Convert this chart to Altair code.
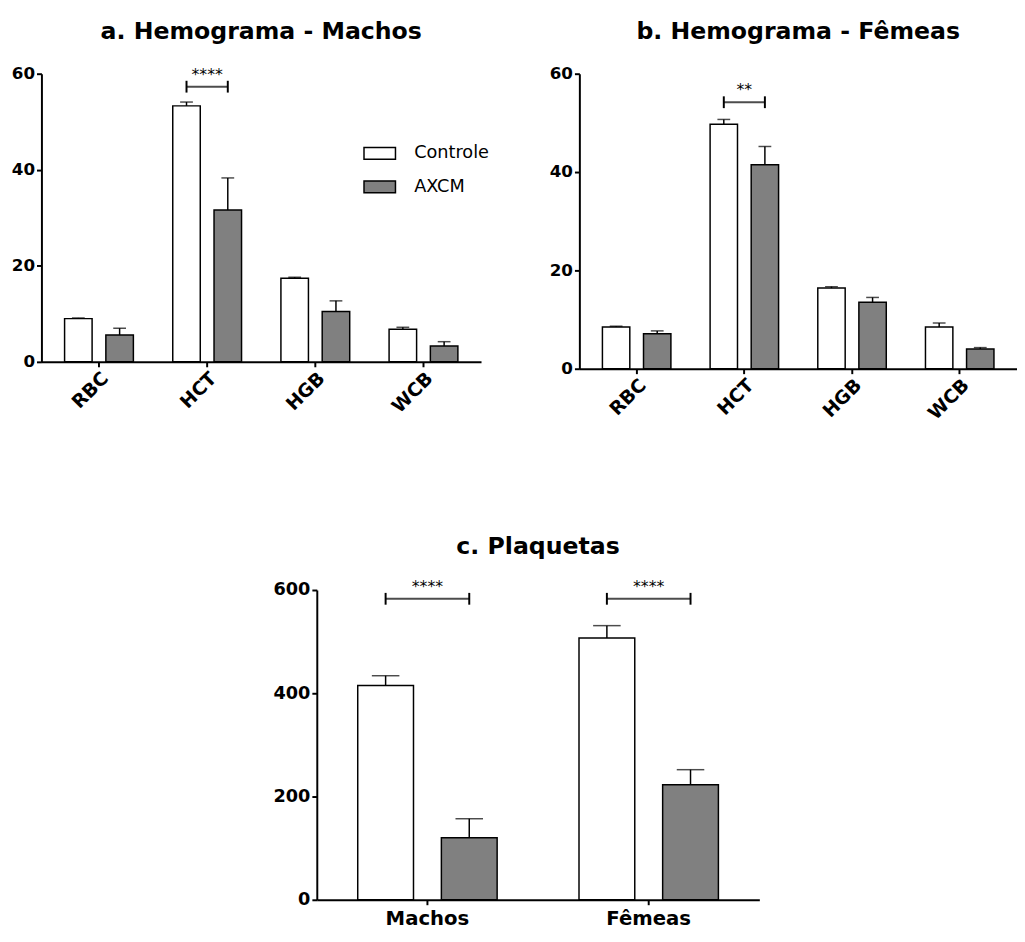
import altair as alt
import pandas as pd

# ---------------- data ----------------
hemo_categories = ["RBC", "HCT", "HGB", "WCB"]
groups = ["Controle", "AXCM"]

machos_controle_mean = [9.0, 53.3, 17.4, 6.8]
machos_controle_sem = [0.15, 0.8, 0.2, 0.4]
machos_axcm_mean = [5.6, 31.6, 10.5, 3.3]
machos_axcm_sem = [1.4, 6.7, 2.2, 0.9]

femeas_controle_mean = [8.5, 49.7, 16.4, 8.5]
femeas_controle_sem = [0.15, 1.0, 0.3, 0.8]
femeas_axcm_mean = [7.1, 41.5, 13.5, 4.0]
femeas_axcm_sem = [0.6, 3.7, 1.0, 0.3]

plaq_categories = ["Machos", "Fêmeas"]
plaq_controle_mean = [415, 507]
plaq_controle_sem = [19, 24]
plaq_axcm_mean = [120, 223]
plaq_axcm_sem = [37, 29]

sig_machos_cat = ["HCT"]
sig_machos_y = [57.3]
sig_machos_label = ["****"]

sig_femeas_cat = ["HCT"]
sig_femeas_y = [54.2]
sig_femeas_label = ["**"]

sig_plaq_cat = ["Machos", "Fêmeas"]
sig_plaq_y = [583, 583]
sig_plaq_label = ["****", "****"]

GRAY = "#808080"
FONT = "DejaVu Sans"


def make_df(cats, cm, cs, am, asd):
    rows = []
    for i, c in enumerate(cats):
        rows.append(dict(cat=c, group="Controle", mean=cm[i], top=cm[i] + cs[i]))
        rows.append(dict(cat=c, group="AXCM", mean=am[i], top=am[i] + asd[i]))
    return pd.DataFrame(rows)


def make_sig(cats, ys, labels):
    return pd.DataFrame(dict(cat=cats, y=ys, label=labels))


def make_sig_ends(cats, ys):
    rows = []
    for c, yv in zip(cats, ys):
        for g in groups:
            rows.append(dict(cat=c, group=g, y=yv))
    return pd.DataFrame(rows)


def panel(df, sig, sig_ends, cats, ydomain, yticks, title, width, height,
          p_inner, p_outer, label_angle, xlabel_size, ylabel_size, cap_size,
          bracket_width, legend, xlabel_pad=2):
    x = alt.X("cat:N", sort=cats, title=None,
              scale=alt.Scale(paddingInner=p_inner, paddingOuter=p_outer),
              axis=alt.Axis(labelAngle=label_angle, labelFontSize=xlabel_size,
                            labelPadding=xlabel_pad))
    xo = alt.XOffset("group:N", sort=groups,
                     scale=alt.Scale(paddingInner=1 / 3, paddingOuter=0))
    y = alt.Y("mean:Q", title=None,
              scale=alt.Scale(domain=ydomain, nice=False),
              axis=alt.Axis(values=yticks, labelFontSize=ylabel_size, labelPadding=2))

    base = alt.Chart(df)
    bars = base.mark_bar(stroke="black", strokeWidth=1.5).encode(
        x=x, xOffset=xo, y=y,
        fill=alt.Fill("group:N", sort=groups,
                      scale=alt.Scale(domain=groups, range=["white", GRAY]),
                      legend=legend),
    )
    err = base.mark_rule(color="black", strokeWidth=1.5).encode(
        x=x, xOffset=xo, y="mean:Q", y2="top:Q")
    caps = base.mark_tick(color="black", size=cap_size, thickness=1.5).encode(
        x=x, xOffset=xo, y="top:Q")

    hline = alt.Chart(sig).mark_tick(color="black", size=bracket_width, thickness=2).encode(
        x=x, y="y:Q")
    ends = alt.Chart(sig_ends).mark_rule(color="black", strokeWidth=2,
                                         yOffset=-6, y2Offset=6).encode(
        x=x, xOffset=xo, y="y:Q", y2="y:Q")
    stars = alt.Chart(sig).mark_text(font=FONT, fontSize=16, dy=-12,
                                     color="black").encode(
        x=x, y="y:Q", text="label:N")

    return alt.layer(bars, err, caps, hline, ends, stars).properties(
        width=width, height=height,
        title=alt.TitleParams(title, anchor="middle"),
    )


legend_a = alt.Legend(
    orient="none", legendX=327, legendY=64, title=None,
    symbolType="M-1,-0.375H1V0.375H-1Z", symbolSize=1024,
    symbolStrokeColor="black", symbolStrokeWidth=1.5,
    labelFont=FONT, labelFontSize=18, labelFontWeight="normal",
    labelColor="black", labelOffset=18, rowPadding=8,
)

panel_a = panel(
    make_df(hemo_categories, machos_controle_mean, machos_controle_sem,
            machos_axcm_mean, machos_axcm_sem),
    make_sig(sig_machos_cat, sig_machos_y, sig_machos_label),
    make_sig_ends(sig_machos_cat, sig_machos_y),
    hemo_categories, [0, 60], [0, 20, 40, 60], "a. Hemograma - Machos",
    447, 293, 0.364, 0.214, -45, 19, 17, 13, 42, legend_a,
)

panel_b = panel(
    make_df(hemo_categories, femeas_controle_mean, femeas_controle_sem,
            femeas_axcm_mean, femeas_axcm_sem),
    make_sig(sig_femeas_cat, sig_femeas_y, sig_femeas_label),
    make_sig_ends(sig_femeas_cat, sig_femeas_y),
    hemo_categories, [0, 60], [0, 20, 40, 60], "b. Hemograma - Fêmeas",
    445, 300, 0.364, 0.214, -45, 19, 17, 13, 42, None,
)

panel_c = panel(
    make_df(plaq_categories, plaq_controle_mean, plaq_controle_sem,
            plaq_axcm_mean, plaq_axcm_sem),
    make_sig(sig_plaq_cat, sig_plaq_y, sig_plaq_label),
    make_sig_ends(sig_plaq_cat, sig_plaq_y),
    plaq_categories, [0, 600], [0, 200, 400, 600], "c. Plaquetas",
    450, 315, 0.37, 0.185, 0, 20, 18, 28, 85, None, xlabel_pad=4,
)

spacer = alt.Chart(pd.DataFrame({"v": [0]})).mark_text(text="").encode(
    x=alt.value(0), y=alt.value(0)
).properties(width=235, height=10)

top = alt.hconcat(panel_a, panel_b, spacing=60).resolve_scale(
    color="independent", fill="independent", x="independent", y="independent",
    xOffset="independent")

bottom = alt.hconcat(spacer, panel_c, spacing=0).resolve_scale(
    color="independent", fill="independent", x="independent", y="independent",
    xOffset="independent")

chart = alt.vconcat(top, bottom, spacing=112).resolve_scale(
    color="independent", fill="independent", x="independent", y="independent",
    xOffset="independent",
).properties(
    padding={"left": 3, "top": 5, "right": 0, "bottom": 0},
    background="white",
).configure_view(stroke=None).configure_axis(
    domainColor="black", domainWidth=2, tickColor="black", tickWidth=2,
    tickSize=5, labelColor="black", labelFont=FONT, labelFontWeight="bold",
    grid=False,
).configure_title(
    font=FONT, fontWeight="bold", fontSize=24, color="black", offset=21,
)

chart.save("out.html", embed_options={"renderer": "svg", "actions": False})
